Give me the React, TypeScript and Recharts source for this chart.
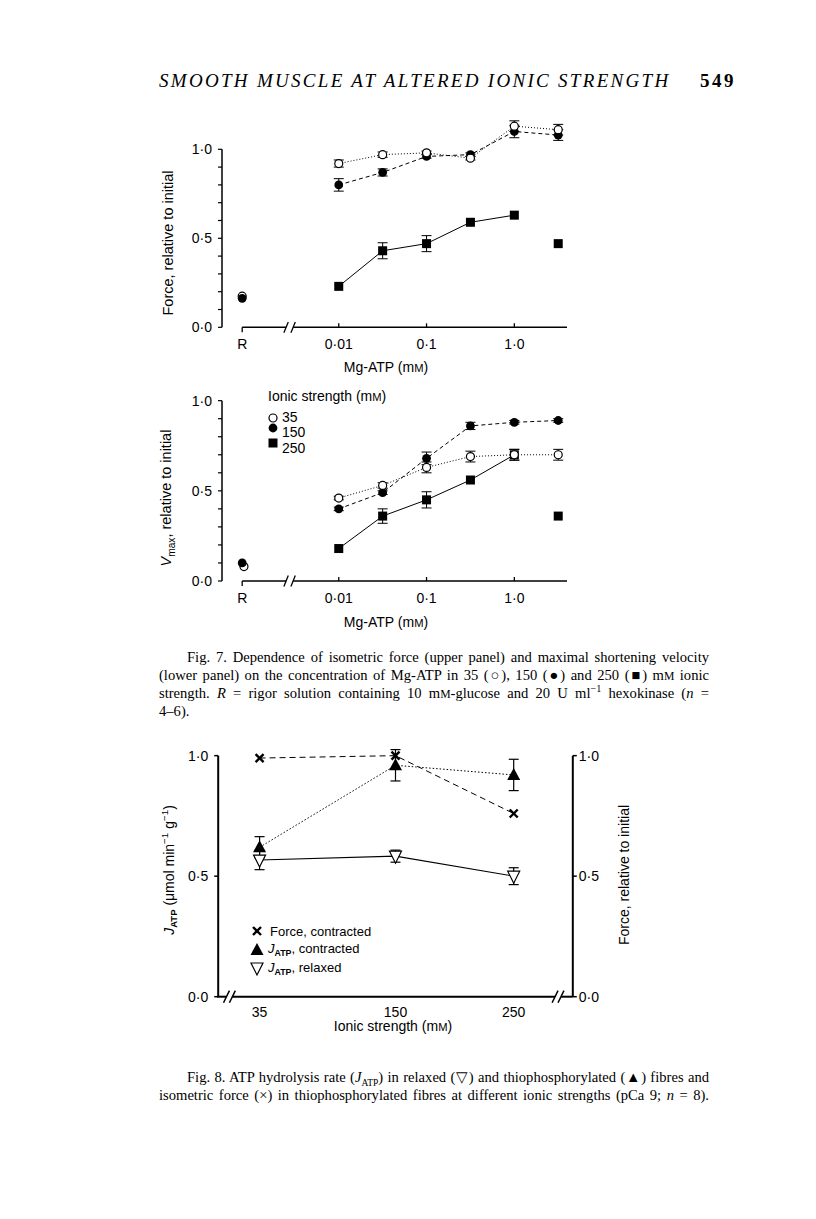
import React from 'react';
import { ScatterChart, Scatter, XAxis, YAxis, ErrorBar, ReferenceLine, Legend } from 'recharts';

// Mg-ATP (mM) on a log10 scale: 0.01, 0.03, 0.1, 0.3, 1.0, 3
const mgAtpLog = [-2, -1.5, -1, -0.5, 0, 0.5];
const rigorPos = -3.1;
const mgAtpTicks = [rigorPos, -2, -1, 0];
const mgAtpTickLabels = ['R', '0·01', '0·1', '1·0'];

// Fig 7 upper panel: force, relative to initial
const force35 = [0.92, 0.97, 0.98, 0.95, 1.13, 1.11];
const force35Err = [0.02, 0.015, 0.01, 0.01, 0.03, 0.03];
const force150 = [0.8, 0.87, 0.96, 0.97, 1.1, 1.08];
const force150Err = [0.035, 0.02, 0.01, 0.01, 0.035, 0.03];
const force250 = [0.23, 0.43, 0.47, 0.59, 0.63, 0.47];
const force250Err = [0, 0.045, 0.045, 0, 0, 0];
const forceRigor35 = 0.175;
const forceRigor150 = 0.163;

// Fig 7 lower panel: Vmax, relative to initial
const vmax35 = [0.46, 0.53, 0.63, 0.69, 0.7, 0.7];
const vmax35Err = [0.01, 0.015, 0.03, 0.03, 0.03, 0.03];
const vmax150 = [0.4, 0.49, 0.68, 0.86, 0.88, 0.89];
const vmax150Err = [0.01, 0.01, 0.035, 0.02, 0.01, 0.01];
const vmax250 = [0.18, 0.36, 0.45, 0.56, 0.7, 0.36];
const vmax250Err = [0, 0.04, 0.045, 0, 0.03, 0];
const vmaxRigor35 = 0.08;
const vmaxRigor150 = 0.1;

// Fig 8
const ionicStrength = [35, 150, 250];
const forceContracted = [0.99, 1.0, 0.76];
const jatpContracted = [0.62, 0.96, 0.92];
const jatpContractedErr = [0.044, 0.065, 0.065];
const jatpRelaxed = [0.567, 0.583, 0.5];
const jatpRelaxedErr = [0.04, 0.025, 0.035];

const FONT = '"Liberation Sans", Arial, Helvetica, sans-serif';
const SERIF = '"Liberation Serif", "Times New Roman", serif';

const fmt = (v: number) => v.toFixed(1).replace('.', '·');
const pts = (ys: number[], errs: number[]) => mgAtpLog.map((x, i) => ({ x, y: ys[i], err: errs[i] }));
const minorTicks = Array.from({ length: 11 }, (_, i) => Number((i / 10).toFixed(1)));
const halfLabel = (v: number) => (Math.abs(v * 2 - Math.round(v * 2)) < 1e-6 ? fmt(v) : '');

const openCircle = (p: any) => <circle cx={p.cx} cy={p.cy} r={4} fill="#fff" stroke="#000" strokeWidth={1.2} />;
const filledCircle = (p: any) => <circle cx={p.cx} cy={p.cy} r={4.4} fill="#000" />;
const filledSquare = (p: any) => <rect x={p.cx - 4.5} y={p.cy - 4.5} width={9} height={9} fill="#000" />;
const crossMark = (p: any) => (
  <g stroke="#000" strokeWidth={2.4}>
    <line x1={p.cx - 4} y1={p.cy - 4} x2={p.cx + 4} y2={p.cy + 4} />
    <line x1={p.cx - 4} y1={p.cy + 4} x2={p.cx + 4} y2={p.cy - 4} />
  </g>
);
const filledTri = (p: any) => (
  <polygon points={`${p.cx},${p.cy - 7} ${p.cx - 6.5},${p.cy + 5} ${p.cx + 6.5},${p.cy + 5}`} fill="#000" />
);
const openTriDown = (p: any) => (
  <polygon points={`${p.cx - 6},${p.cy - 5} ${p.cx + 6},${p.cy - 5} ${p.cx},${p.cy + 7}`} fill="#fff" stroke="#000" strokeWidth={1.2} />
);

const MgTick = (props: any) => {
  const { x, y, payload } = props;
  const idx = mgAtpTicks.findIndex((t) => Math.abs(t - payload.value) < 1e-6);
  return (
    <g>
      <line x1={x} x2={x} y1={y} y2={idx === 0 ? y + 5 : y - 4} stroke="#000" strokeWidth={1.3} />
      <text x={x} y={y + 22} textAnchor="middle" fontSize={14} fontFamily={FONT} fill="#000">
        {mgAtpTickLabels[idx]}
      </text>
    </g>
  );
};

const IonicTick = (props: any) => (
  <text x={props.x} y={props.y + 20} textAnchor="middle" fontSize={14} fontFamily={FONT} fill="#000">
    {props.payload.value}
  </text>
);

const Txt = ({ x, y, children, size = 14, rotate = false, start = false, font = FONT, style = {} }: any) => (
  <div
    style={{
      position: 'absolute',
      left: x,
      top: y,
      transform: `translate(${start ? '0' : '-50%'}, -50%)${rotate ? ' rotate(-90deg)' : ''}`,
      whiteSpace: 'nowrap',
      fontFamily: font,
      fontSize: size,
      lineHeight: 1,
      color: '#000',
      ...style,
    }}
  >
    {children}
  </div>
);

const mM = (
  <>
    m<span style={{ fontSize: '0.8em' }}>M</span>
  </>
);
const Jatp = (
  <>
    <i>J</i>
    <sub style={{ fontSize: '0.68em', fontWeight: 'bold', verticalAlign: '-0.3em' }}>ATP</sub>
  </>
);

const IonicLegend = () => (
  <div style={{ position: 'relative', width: 140, height: 70, fontFamily: FONT, color: '#000' }}>
    <Txt x={6} y={11} start>Ionic strength ({mM})</Txt>
    <svg width={20} height={70} style={{ position: 'absolute', left: 0, top: 0 }}>
      {openCircle({ cx: 11, cy: 33 })}
      {filledCircle({ cx: 11, cy: 43 })}
      {filledSquare({ cx: 11, cy: 58 })}
    </svg>
    <Txt x={20} y={32} start>35</Txt>
    <Txt x={20} y={47} start>150</Txt>
    <Txt x={20} y={63} start>250</Txt>
  </div>
);

const Fig8Legend = () => (
  <div style={{ position: 'relative', width: 140, height: 60, fontFamily: FONT, color: '#000' }}>
    <svg width={20} height={60} style={{ position: 'absolute', left: 0, top: 0 }}>
      {crossMark({ cx: 10, cy: 10 })}
      {filledTri({ cx: 10, cy: 29 })}
      {openTriDown({ cx: 10, cy: 47 })}
    </svg>
    <Txt x={23} y={10} start size={13}>Force, contracted</Txt>
    <Txt x={21} y={29} start size={13}>{Jatp}, contracted</Txt>
    <Txt x={21} y={48} start size={13}>{Jatp}, relaxed</Txt>
  </div>
);

const MgAtpPanel = ({ top, mTop, mBottom, s35, s150, s250, r35, r150, legend }: any) => {
  const xMin = -3.33;
  const xMax = 0.6;
  const line250 = s250.slice(0, 5);
  const last250 = s250.slice(5);
  return (
    <div style={{ position: 'absolute', left: 140, top }}>
      <ScatterChart width={460} height={290} margin={{ top: mTop, right: 33, bottom: mBottom, left: 0 }}>
        <XAxis
          type="number"
          dataKey="x"
          domain={[xMin, xMax]}
          ticks={mgAtpTicks}
          interval={0}
          axisLine={false}
          tickLine={false}
          tickSize={0}
          tickMargin={0}
          height={50}
          tick={<MgTick />}
        />
        <YAxis
          type="number"
          dataKey="y"
          domain={[0, 1.2]}
          ticks={minorTicks}
          interval={0}
          width={82}
          axisLine={false}
          tickLine={{ stroke: '#000', strokeWidth: 1.2 }}
          tickSize={4}
          tickMargin={6}
          tickFormatter={halfLabel}
          tick={{ fill: '#000', fontSize: 14, fontFamily: FONT }}
        />
        <ReferenceLine segment={[{ x: xMin, y: 0 }, { x: xMin, y: 1 }]} stroke="#000" strokeWidth={1.5} ifOverflow="visible" />
        <ReferenceLine segment={[{ x: rigorPos, y: 0 }, { x: -2.6, y: 0 }]} stroke="#000" strokeWidth={1.5} ifOverflow="visible" />
        <ReferenceLine segment={[{ x: -2.52, y: 0 }, { x: xMax, y: 0 }]} stroke="#000" strokeWidth={1.5} ifOverflow="visible" />
        <ReferenceLine segment={[{ x: -2.625, y: -0.03 }, { x: -2.575, y: 0.03 }]} stroke="#000" strokeWidth={1.3} ifOverflow="visible" />
        <ReferenceLine segment={[{ x: -2.545, y: -0.03 }, { x: -2.495, y: 0.03 }]} stroke="#000" strokeWidth={1.3} ifOverflow="visible" />
        <Scatter data={line250} shape={filledSquare} line={{ stroke: '#000', strokeWidth: 1 }} isAnimationActive={false}>
          <ErrorBar dataKey="err" direction="y" width={5} stroke="#000" strokeWidth={1} />
        </Scatter>
        <Scatter data={last250} shape={filledSquare} isAnimationActive={false} />
        <Scatter data={s150} shape={filledCircle} line={{ stroke: '#000', strokeWidth: 1, strokeDasharray: '4 3' }} isAnimationActive={false}>
          <ErrorBar dataKey="err" direction="y" width={5} stroke="#000" strokeWidth={1} />
        </Scatter>
        <Scatter data={s35} shape={openCircle} line={{ stroke: '#000', strokeWidth: 1, strokeDasharray: '1 2' }} isAnimationActive={false}>
          <ErrorBar dataKey="err" direction="y" width={5} stroke="#000" strokeWidth={1} />
        </Scatter>
        <Scatter data={r35} shape={openCircle} isAnimationActive={false} />
        <Scatter data={r150} shape={filledCircle} isAnimationActive={false} />
        {legend && (
          <Legend
            layout="vertical"
            align="center"
            verticalAlign="middle"
            wrapperStyle={{ left: 122, top: 33, width: 140 }}
            content={() => <IonicLegend />}
          />
        )}
      </ScatterChart>
    </div>
  );
};

export default function App() {
  const fig8Force = ionicStrength.map((x, i) => ({ x, y: forceContracted[i] }));
  const fig8Con = ionicStrength.map((x, i) => ({ x, y: jatpContracted[i], err: jatpContractedErr[i] }));
  const fig8Rel = ionicStrength.map((x, i) => ({ x, y: jatpRelaxed[i], err: jatpRelaxedErr[i] }));

  const capLine = (top: number, left: number, text: React.ReactNode, last = false) => (
    <div
      style={{
        position: 'absolute',
        left,
        top: top - 9,
        width: 709 - left,
        height: 18,
        lineHeight: '18px',
        fontFamily: SERIF,
        fontSize: 14.6,
        color: '#000',
        whiteSpace: 'nowrap',
        textAlign: 'justify',
        textAlignLast: last ? 'left' : 'justify',
      }}
    >
      {text}
    </div>
  );
  const sup = (s: string) => <sup style={{ fontSize: '0.7em', lineHeight: 0 }}>{s}</sup>;

  return (
    <div style={{ position: 'absolute', left: 0, top: 0, width: 816, height: 1219, background: '#fff' }}>
      <Txt x={159} y={80} start font={SERIF} size={19} style={{ fontStyle: 'italic', letterSpacing: 2.3 }}>
        SMOOTH MUSCLE AT ALTERED IONIC STRENGTH
      </Txt>
      <Txt x={700} y={80} start font={SERIF} size={19} style={{ fontWeight: 'bold', letterSpacing: 2.5 }}>
        549
      </Txt>

      <MgAtpPanel
        top={100}
        mTop={13.7}
        mBottom={12.7}
        s35={pts(force35, force35Err)}
        s150={pts(force150, force150Err)}
        s250={pts(force250, force250Err)}
        r35={[{ x: rigorPos, y: forceRigor35 }]}
        r150={[{ x: rigorPos, y: forceRigor150 }]}
      />
      <Txt x={168} y={243} rotate size={14.5}>Force, relative to initial</Txt>
      <Txt x={386} y={367}>Mg-ATP ({mM})</Txt>

      <MgAtpPanel
        top={352}
        mTop={12.6}
        mBottom={11}
        s35={pts(vmax35, vmax35Err)}
        s150={pts(vmax150, vmax150Err)}
        s250={pts(vmax250, vmax250Err)}
        r35={[{ x: rigorPos + 0.02, y: vmaxRigor35 }]}
        r150={[{ x: rigorPos, y: vmaxRigor150 }]}
        legend
      />
      <Txt x={168} y={498} rotate size={14.5}>
        <i>V</i>
        <sub style={{ fontSize: '0.7em' }}>max</sub>, relative to initial
      </Txt>
      <Txt x={386} y={622}>Mg-ATP ({mM})</Txt>

      {capLine(657, 187, <>Fig. 7. Dependence of isometric force (upper panel) and maximal shortening velocity</>)}
      {capLine(675, 159, <>(lower panel) on the concentration of Mg-ATP in 35 (○), 150 (●) and 250 (■) m<span style={{ fontSize: '0.8em' }}>M</span> ionic</>)}
      {capLine(693, 159, <>strength. <i>R</i> = rigor solution containing 10 m<span style={{ fontSize: '0.8em' }}>M</span>-glucose and 20 U ml{sup('−1')} hexokinase (<i>n</i> =</>)}
      {capLine(711, 159, <>4–6).</>, true)}

      <div style={{ position: 'absolute', left: 140, top: 730 }}>
        <ScatterChart width={520} height={320} margin={{ top: 13.6, right: 37.2, bottom: 13.3, left: 0 }}>
          <XAxis
            type="number"
            dataKey="x"
            domain={[0, 300]}
            ticks={ionicStrength}
            interval={0}
            axisLine={false}
            tickLine={false}
            tickSize={0}
            tickMargin={0}
            height={40}
            tick={<IonicTick />}
          />
          <YAxis
            yAxisId="left"
            type="number"
            dataKey="y"
            domain={[0, 1.05]}
            ticks={[0, 0.5, 1]}
            interval={0}
            width={78.2}
            axisLine={false}
            tickLine={{ stroke: '#000', strokeWidth: 1.5 }}
            tickSize={4}
            tickMargin={6}
            tickFormatter={fmt}
            tick={{ fill: '#000', fontSize: 14, fontFamily: FONT }}
          />
          <YAxis
            yAxisId="right"
            orientation="right"
            type="number"
            dataKey="y"
            domain={[0, 1.05]}
            ticks={[0, 0.5, 1]}
            interval={0}
            width={50}
            axisLine={false}
            tickLine={{ stroke: '#000', strokeWidth: 1.5 }}
            tickSize={4}
            tickMargin={2}
            tickFormatter={fmt}
            tick={{ fill: '#000', fontSize: 14, fontFamily: FONT }}
          />
          <ReferenceLine yAxisId="left" segment={[{ x: 0, y: 0 }, { x: 0, y: 1 }]} stroke="#000" strokeWidth={2} ifOverflow="visible" />
          <ReferenceLine yAxisId="left" segment={[{ x: 300, y: 0 }, { x: 300, y: 1 }]} stroke="#000" strokeWidth={2} ifOverflow="visible" />
          <ReferenceLine yAxisId="left" segment={[{ x: -1, y: 0 }, { x: 7, y: 0 }]} stroke="#000" strokeWidth={2} ifOverflow="visible" />
          <ReferenceLine yAxisId="left" segment={[{ x: 12, y: 0 }, { x: 285, y: 0 }]} stroke="#000" strokeWidth={2} ifOverflow="visible" />
          <ReferenceLine yAxisId="left" segment={[{ x: 290, y: 0 }, { x: 300, y: 0 }]} stroke="#000" strokeWidth={2} ifOverflow="visible" />
          <ReferenceLine yAxisId="left" segment={[{ x: 4.5, y: -0.025 }, { x: 9.5, y: 0.025 }]} stroke="#000" strokeWidth={1.5} ifOverflow="visible" />
          <ReferenceLine yAxisId="left" segment={[{ x: 9.5, y: -0.025 }, { x: 14.5, y: 0.025 }]} stroke="#000" strokeWidth={1.5} ifOverflow="visible" />
          <ReferenceLine yAxisId="left" segment={[{ x: 282.5, y: -0.025 }, { x: 287.5, y: 0.025 }]} stroke="#000" strokeWidth={1.5} ifOverflow="visible" />
          <ReferenceLine yAxisId="left" segment={[{ x: 287.5, y: -0.025 }, { x: 292.5, y: 0.025 }]} stroke="#000" strokeWidth={1.5} ifOverflow="visible" />
          <Scatter yAxisId="right" data={fig8Force} shape={crossMark} line={{ stroke: '#000', strokeWidth: 1, strokeDasharray: '6 4' }} isAnimationActive={false} />
          <Scatter yAxisId="left" data={fig8Con} shape={filledTri} line={{ stroke: '#000', strokeWidth: 1, strokeDasharray: '1.5 2' }} isAnimationActive={false}>
            <ErrorBar dataKey="err" direction="y" width={5} stroke="#000" strokeWidth={1.2} />
          </Scatter>
          <Scatter yAxisId="left" data={fig8Rel} shape={openTriDown} line={{ stroke: '#000', strokeWidth: 1.1 }} isAnimationActive={false}>
            <ErrorBar dataKey="err" direction="y" width={5} stroke="#000" strokeWidth={1.2} />
          </Scatter>
          <Legend
            layout="vertical"
            align="center"
            verticalAlign="middle"
            wrapperStyle={{ left: 107, top: 191, width: 140 }}
            content={() => <Fig8Legend />}
          />
        </ScatterChart>
      </div>
      <Txt x={170} y={870} rotate>
        {Jatp} (μmol min{sup('−1')} g{sup('−1')})
      </Txt>
      <Txt x={624} y={875} rotate>Force, relative to initial</Txt>
      <Txt x={393} y={1026}>Ionic strength ({mM})</Txt>

      {capLine(1077, 187, <>Fig. 8. ATP hydrolysis rate ({<><i>J</i><sub style={{ fontSize: '0.65em', lineHeight: 0 }}>ATP</sub></>}) in relaxed (▽) and thiophosphorylated (▲) fibres and</>)}
      {capLine(1095, 159, <>isometric force (×) in thiophosphorylated fibres at different ionic strengths (pCa 9; <i>n</i> = 8).</>)}
    </div>
  );
}
